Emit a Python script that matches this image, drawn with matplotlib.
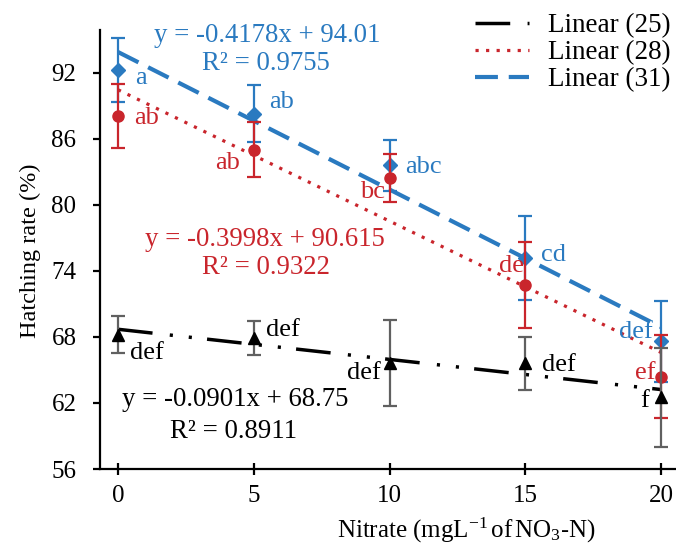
import numpy as np
import matplotlib
matplotlib.use('Agg')
import matplotlib.pyplot as plt

nitrate = [0, 5, 10, 15, 20]
t25_mean = [68.2, 67.9, 65.6, 65.6, 62.5]
t25_err = [1.7, 1.55, 3.9, 2.4, 4.5]
t28_mean = [88.1, 85.0, 82.45, 72.7, 64.4]
t28_err = [2.9, 2.5, 2.2, 3.9, 3.8]
t31_mean = [92.3, 88.3, 83.6, 75.2, 67.6]
t31_err = [2.9, 2.6, 2.3, 3.8, 3.7]

letters25 = ['def', 'def', 'def', 'def', 'f']
letters28 = ['ab', 'ab', 'bc', 'de', 'ef']
letters31 = ['a', 'ab', 'abc', 'cd', 'def']

eq25 = ['y = -0.0901x + 68.75', 'R² = 0.8911']
eq28 = ['y = -0.3998x + 90.615', 'R² = 0.9322']
eq31 = ['y = -0.4178x + 94.01', 'R² = 0.9755']

legend_labels = ['Linear (25)', 'Linear (28)', 'Linear (31)']
yticks = [56, 62, 68, 74, 80, 86, 92]
xticks = [0, 5, 10, 15, 20]

BLUE = '#2A7AC0'
RED = '#C9252C'
BLACK = '#000000'
GRAY = '#606060'

plt.rcParams['font.family'] = ['Liberation Serif', 'DejaVu Serif']
plt.rcParams['mathtext.fontset'] = 'stix'

fig = plt.figure(figsize=(6.76, 5.47), dpi=100)
ax = fig.add_axes([100/676, 1-469/547, 1-100/676, (469-30)/547])
ax.set_xlim(-0.663, 20.55)
ax.set_ylim(56, 95.9)

x = np.array(nitrate, dtype=float)
xx = np.array([0.0, 20.0])

# trend lines
styles = [
    (t25_mean, BLACK, 2.5, (0, (10, 5, 0.9, 4.6, 0.9, 4.4))),
    (t28_mean, RED, 2.3, (0, (1, 2.3))),
    (t31_mean, BLUE, 3.0, (0, (5.5, 2.6))),
]
handles = []
for ys, c, lw, ls in styles:
    k, b = np.polyfit(x, np.array(ys), 1)
    ln, = ax.plot(xx, k*xx + b, color=c, lw=lw, linestyle=ls, zorder=2,
                  dash_capstyle='butt')
    handles.append(ln)

# error bars + markers
ax.errorbar(x, t31_mean, yerr=t31_err, fmt='D', ms=7, color=BLUE, ecolor=BLUE,
            elinewidth=1.6, capsize=5, capthick=1.6, zorder=3)
ax.errorbar(x, t28_mean, yerr=t28_err, fmt='o', ms=8, color=RED, ecolor=RED,
            elinewidth=1.6, capsize=5, capthick=1.6, zorder=4)
ax.errorbar(x, t25_mean, yerr=t25_err, fmt='^', ms=8, color=BLACK, ecolor=GRAY,
            elinewidth=1.6, capsize=5, capthick=1.6, zorder=5)

# letter labels (pixel offsets)
off31 = [(23, -8), (28, 12), (34, -2), (28, 3), (-25, 9)]
off28 = [(29, -2), (-26, -13), (-17, -14), (-14, 19), (-16, 4)]
off25 = [(29, -18), (29, 8), (-26, -10), (34, -2), (-16, -4)]
fs_let = 19
for labs, ys, offs, c in [(letters31, t31_mean, off31, BLUE),
                          (letters28, t28_mean, off28, RED),
                          (letters25, t25_mean, off25, BLACK)]:
    for xi, yi, lab, (dx, dy) in zip(nitrate, ys, labs, offs):
        ax.annotate(lab, (xi, yi), xytext=(dx, dy), textcoords='offset pixels',
                    ha='center', va='center', fontsize=fs_let, color=c, zorder=6)

# equations (figure pixel positions)
def ftext(px, py, s, c):
    fig.text(px/676, 1-py/547, s, ha='center', va='center', fontsize=19.3, color=c)

ftext(267, 35, eq31[0], BLUE)
ftext(266, 63, eq31[1], BLUE)
ftext(265, 239, eq28[0], RED)
ftext(266, 267, eq28[1], RED)
ftext(235, 400, eq25[0], BLACK)
ftext(234, 431, eq25[1], BLACK)

# axes styling
for s in ['top', 'right']:
    ax.spines[s].set_visible(False)
for s in ['left', 'bottom']:
    ax.spines[s].set_linewidth(1.6)
ax.set_yticks(yticks)
ax.set_xticks(xticks)
ax.tick_params(axis='y', direction='out', length=5, width=1.6, pad=12, labelsize=18)
ax.tick_params(axis='x', direction='inout', length=9, width=1.6, pad=7, labelsize=18)

fig.text(30/676, 1-251/547, 'Hatching rate (%)', rotation=90, ha='center', va='center',
         fontsize=17.5)
fig.text(466/676, 1-530/547, 'Nitrate $\\mathregular{(mgL^{-1}\\,of\\,NO_3\\text{-}N)}$',
         ha='center', va='center', fontsize=18)

leg = fig.legend(handles, legend_labels, loc='upper left',
                 bbox_to_anchor=(475/676, 1-13/547), frameon=False,
                 fontsize=19.5, handlelength=2.0, handletextpad=0.7,
                 labelspacing=0.08, borderpad=0, borderaxespad=0)

fig.savefig('out.png', dpi=100)
